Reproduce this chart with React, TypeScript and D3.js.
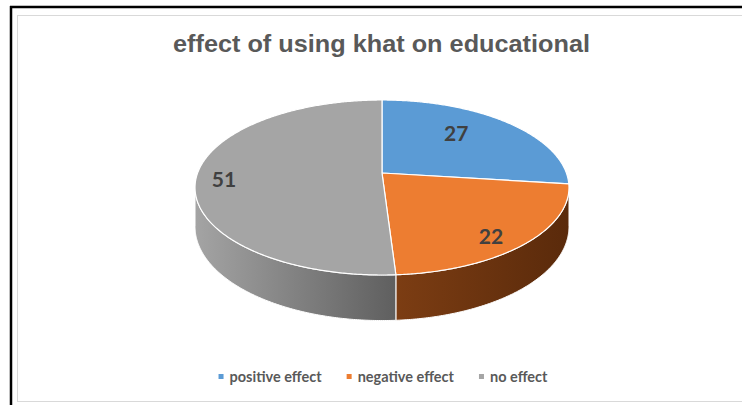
import React, { useEffect, useRef } from "react";
import * as d3 from "d3";

const TITLE = "effect of using khat on educational";
const categories = ["positive effect", "negative effect", "no effect"];
const values = [27, 22, 51];
const topColors = ["#5B9BD5", "#ED7D31", "#A5A5A5"];
const sideColors = [
  ["#3f77a8", "#2e5a82"],
  ["#7c3d13", "#5a2a0b"],
  ["#a4a4a4", "#5f5f5f"],
];
// label layout (radius fraction on the pie plane, angular nudge in degrees)
const labelRadius = [0.67, 0.85, 0.85];
const labelShift = [-8, 5, -3];

const W = 742;
const H = 405;
const CX = 382;
const CY = 173;
const RA = 184.4;
const RB = 85.1;
const K = 0.1657;
const DEPTH = 38;

function proj(theta: number, f = 1, drop = 0): [number, number] {
  const u = Math.sin(theta) * f;
  const v = Math.cos(theta) * f;
  const w = 1 + K * v;
  return [CX + (RA * u) / w, CY - (RB * v) / w + (DEPTH * drop) / w];
}

export default function App() {
  const ref = useRef<SVGSVGElement>(null);
  useEffect(() => {
    const svg = d3.select(ref.current!);
    svg.selectAll("*").remove();

    // frame
    svg.append("rect").attr("x", 0).attr("y", 0).attr("width", W).attr("height", H).attr("fill", "#fff");
    svg.append("line").attr("x1", 10).attr("x2", W).attr("y1", 7).attr("y2", 7).attr("stroke", "#000").attr("stroke-width", 2.5);
    svg.append("line").attr("x1", 11).attr("x2", 11).attr("y1", 6).attr("y2", H).attr("stroke", "#000").attr("stroke-width", 2.5);
    svg.append("rect").attr("x", 17.5).attr("y", 15.5).attr("width", W).attr("height", 386)
      .attr("fill", "none").attr("stroke", "#d9d9d9").attr("stroke-width", 1);

    // title
    svg.append("text").attr("x", 381.5).attr("y", 52).attr("text-anchor", "middle")
      .attr("font-family", "'Liberation Sans', Arial, sans-serif").attr("font-weight", "bold")
      .attr("font-size", 24).attr("fill", "#595959")
      .attr("textLength", 417).attr("lengthAdjust", "spacingAndGlyphs").text(TITLE);

    const arcs = d3.pie<number>().sort(null).value((d) => d)(values);
    const defs = svg.append("defs");

    const silA = Math.acos(-K);
    const silB = 2 * Math.PI - silA;
    const step = Math.PI / 360;

    // side faces
    arcs.forEach((a, i) => {
      const s = Math.max(a.startAngle, silA);
      const e = Math.min(a.endAngle, silB);
      if (e <= s) return;
      const gid = "side" + i;
      const g = defs.append("linearGradient").attr("id", gid).attr("x1", 0).attr("x2", 1).attr("y1", 0).attr("y2", 0);
      g.append("stop").attr("offset", "0%").attr("stop-color", sideColors[i][0]);
      g.append("stop").attr("offset", "100%").attr("stop-color", sideColors[i][1]);
      const topPts: [number, number][] = [];
      const botPts: [number, number][] = [];
      for (let t = s; t < e; t += step) { topPts.push(proj(t)); botPts.push(proj(t, 1, 1)); }
      topPts.push(proj(e)); botPts.push(proj(e, 1, 1));
      const pts = topPts.concat(botPts.reverse());
      svg.append("path").attr("d", d3.line()(pts)! + "Z")
        .attr("fill", `url(#${gid})`).attr("stroke", "#ffffff").attr("stroke-width", 1).attr("stroke-linejoin", "round");
    });

    // top faces
    arcs.forEach((a, i) => {
      const pts: [number, number][] = [[CX, CY]];
      for (let t = a.startAngle; t < a.endAngle; t += step) pts.push(proj(t));
      pts.push(proj(a.endAngle));
      svg.append("path").attr("d", d3.line()(pts)! + "Z")
        .attr("fill", topColors[i]).attr("stroke", "#ffffff").attr("stroke-width", 1.2).attr("stroke-linejoin", "round");
    });

    // data labels
    arcs.forEach((a, i) => {
      const mid = (a.startAngle + a.endAngle) / 2 + (labelShift[i] * Math.PI) / 180;
      const [x, y] = proj(mid, labelRadius[i]);
      svg.append("text").attr("x", x).attr("y", y).attr("dy", "0.36em").attr("text-anchor", "middle")
        .attr("font-family", "Lato, 'Open Sans', sans-serif").attr("font-weight", "bold")
        .attr("font-size", 21).attr("fill", "#404040").text(String(values[i]));
    });

    // legend
    const lg = svg.append("g");
    let x = 0;
    categories.forEach((c, i) => {
      const t = lg.append("text").attr("y", 381.5)
        .attr("font-family", "Lato, 'Open Sans', sans-serif").attr("font-weight", "bold")
        .attr("font-size", 14.5).attr("fill", "#595959").text(c);
      const sx = x;
      const tx = x + 11;
      t.attr("x", tx);
      lg.append("rect").attr("x", sx).attr("y", 374).attr("width", 5).attr("height", 5).attr("fill", topColors[i]);
      const tw = (t.node() as SVGTextElement).getComputedTextLength();
      x = tx + tw + 25;
    });
    const total = x - 25;
    lg.attr("transform", `translate(${383 - total / 2},0)`);
  }, []);

  return (
    <svg ref={ref} width={W} height={H} style={{ position: "absolute", left: 0, top: 0, display: "block" }} />
  );
}
